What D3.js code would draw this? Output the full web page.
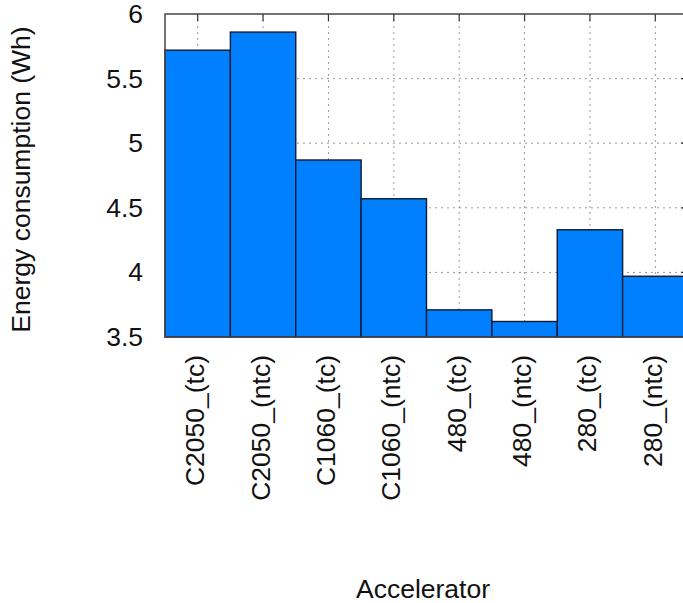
<!DOCTYPE html>
<html>
<head>
<meta charset="utf-8">
<script src="https://cdn.jsdelivr.net/npm/d3@7"></script>
<style>
  body { margin: 0; background: #fff; }
  svg { display: block; font-family: "Liberation Sans", Arial, sans-serif; }
</style>
</head>
<body>
<div id="chart"></div>
<script>
// chart data
const accelerators = ["C2050_(tc)", "C2050_(ntc)", "C1060_(tc)", "C1060_(ntc)", "480_(tc)", "480_(ntc)", "280_(tc)", "280_(ntc)"];
const energyWh = [5.72, 5.86, 4.87, 4.57, 3.71, 3.62, 4.33, 3.97];
const yTicks = [3.5, 4, 4.5, 5, 5.5, 6];

const width = 683, height = 603;
const margin = {top: 14, left: 165, bottom: 266};
const plotW = 523, plotH = height - margin.top - margin.bottom;
const fontSize = 26.5;

const svg = d3.select("#chart").append("svg")
    .attr("width", width)
    .attr("height", height);

const g = svg.append("g")
    .attr("transform", `translate(${margin.left},${margin.top})`);

const x = d3.scaleBand()
    .domain(accelerators)
    .range([0, plotW])
    .padding(0);

const y = d3.scaleLinear()
    .domain([3.5, 6])
    .range([plotH, 0]);

// dotted grid
g.append("g").selectAll("line")
    .data(yTicks.slice(1, -1))
    .join("line")
    .attr("x1", 0).attr("x2", plotW)
    .attr("y1", d => y(d)).attr("y2", d => y(d))
    .attr("stroke", "#999").attr("stroke-dasharray", "2,4");

g.append("g").selectAll("line")
    .data(accelerators)
    .join("line")
    .attr("x1", d => x(d) + x.bandwidth() / 2).attr("x2", d => x(d) + x.bandwidth() / 2)
    .attr("y1", 0).attr("y2", plotH)
    .attr("stroke", "#999").attr("stroke-dasharray", "2,4");

// tick marks: top (mirror of x) and left/right (y)
g.append("g").selectAll("line")
    .data(accelerators)
    .join("line")
    .attr("x1", d => x(d) + x.bandwidth() / 2).attr("x2", d => x(d) + x.bandwidth() / 2)
    .attr("y1", 0).attr("y2", 7)
    .attr("stroke", "#333").attr("stroke-width", 1.2);

g.append("g").selectAll("line")
    .data(yTicks.slice(1, -1))
    .join("line")
    .attr("x1", plotW - 7).attr("x2", plotW)
    .attr("y1", d => y(d)).attr("y2", d => y(d))
    .attr("stroke", "#333").attr("stroke-width", 1.2);

// bars
g.selectAll(".bar")
    .data(energyWh)
    .join("rect")
    .attr("class", "bar")
    .attr("x", (d, i) => x(accelerators[i]))
    .attr("y", d => y(d))
    .attr("width", x.bandwidth())
    .attr("height", d => plotH - y(d))
    .attr("fill", "#0080ff")
    .attr("stroke", "#0d1a33")
    .attr("stroke-width", 1.4);

// frame
g.append("rect")
    .attr("width", plotW).attr("height", plotH)
    .attr("fill", "none")
    .attr("stroke", "#444").attr("stroke-width", 1.5);

// y axis labels
const yAxis = d3.axisLeft(y).tickValues(yTicks).tickSize(0).tickPadding(22)
    .tickFormat(d3.format("~g"));
g.append("g").call(yAxis)
    .call(a => a.select(".domain").remove())
    .selectAll("text")
    .attr("font-size", fontSize)
    .attr("font-family", "Liberation Sans, Arial, sans-serif")
    .attr("fill", "#111");

// x axis labels (rotated)
const xAxis = d3.axisBottom(x).tickSize(0).tickPadding(0);
g.append("g")
    .attr("transform", `translate(0,${plotH})`)
    .call(xAxis)
    .call(a => a.select(".domain").remove())
    .selectAll("text")
    .attr("font-size", fontSize)
    .attr("font-family", "Liberation Sans, Arial, sans-serif")
    .attr("fill", "#111")
    .attr("text-anchor", "end")
    .attr("dy", "0.32em")
    .attr("transform", "translate(-2,18) rotate(-90)")
    .attr("x", 0).attr("y", 0);

// axis titles
svg.append("text")
    .attr("transform", `translate(30,${margin.top + plotH / 2 + 4}) rotate(-90)`)
    .attr("text-anchor", "middle")
    .attr("font-size", fontSize)
    .attr("fill", "#111")
    .text("Energy consumption (Wh)");

svg.append("text")
    .attr("x", 423).attr("y", 598)
    .attr("text-anchor", "middle")
    .attr("font-size", fontSize)
    .attr("fill", "#111")
    .text("Accelerator");
</script>
</body>
</html>
